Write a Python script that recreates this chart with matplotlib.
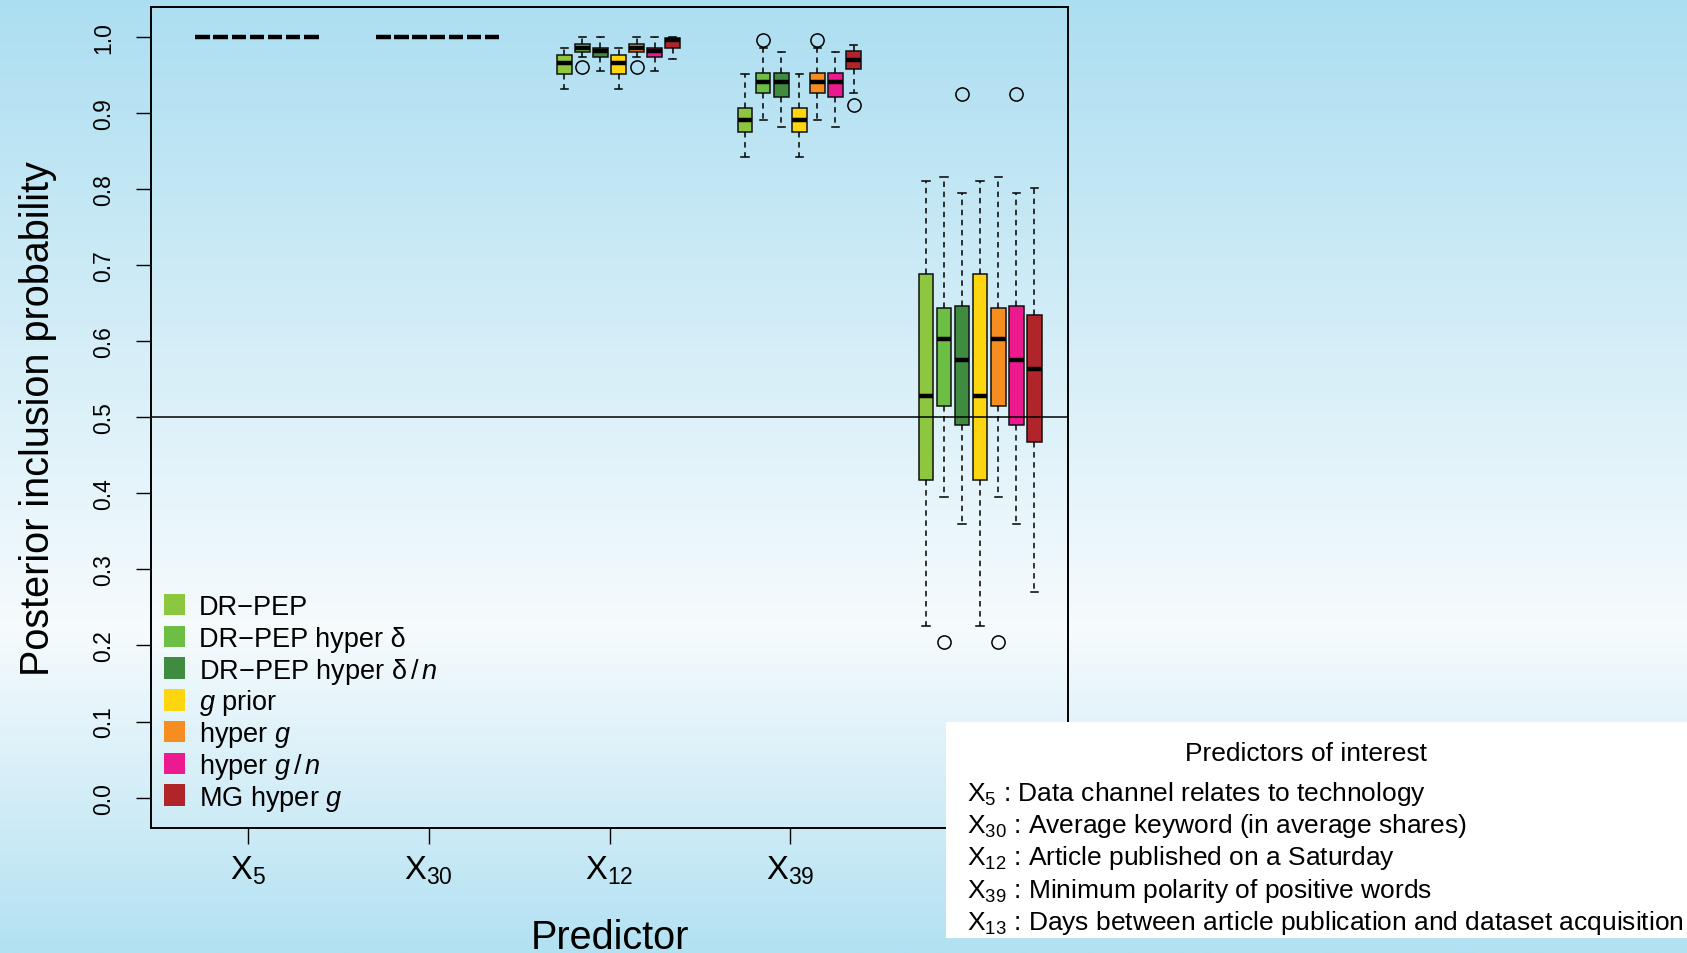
import matplotlib
matplotlib.use("Agg")
import matplotlib.pyplot as plt
from matplotlib.patches import Rectangle
import numpy as np

plt.rcParams['font.family'] = ['Liberation Sans', 'DejaVu Sans']
plt.rcParams['mathtext.fontset'] = 'custom'
plt.rcParams['mathtext.rm'] = 'Liberation Sans'
plt.rcParams['mathtext.it'] = 'Liberation Sans:italic'

# data
predictors = ["X$_{5}$", "X$_{30}$", "X$_{12}$", "X$_{39}$", "X$_{13}$"]
methods = ["DR\u2212PEP", "DR\u2212PEP hyper \u03b4", "DR\u2212PEP hyper \u03b4$\\,/\\,n$",
           "$g$ prior", "hyper $g$", "hyper $g\\,/\\,n$", "MG hyper $g$"]
colors = ["#8DC63F", "#6DBE45", "#3F8B3F", "#FDD60F", "#F68D21", "#EC1A8E", "#B0252A"]

whislo = [[1.0] * 7,
          [1.0] * 7,
          [0.931, 0.973, 0.955, 0.931, 0.973, 0.955, 0.971],
          [0.842, 0.891, 0.881, 0.842, 0.891, 0.881, 0.926],
          [0.225, 0.395, 0.360, 0.225, 0.395, 0.360, 0.270]]
q1 = [[1.0] * 7,
      [1.0] * 7,
      [0.951, 0.980, 0.973, 0.951, 0.980, 0.973, 0.986],
      [0.875, 0.926, 0.921, 0.875, 0.926, 0.921, 0.958],
      [0.418, 0.515, 0.490, 0.418, 0.515, 0.490, 0.468]]
med = [[1.0] * 7,
       [1.0] * 7,
       [0.966, 0.986, 0.981, 0.966, 0.986, 0.981, 0.996],
       [0.891, 0.941, 0.941, 0.891, 0.941, 0.941, 0.970],
       [0.528, 0.603, 0.575, 0.528, 0.603, 0.575, 0.563]]
q3 = [[1.0] * 7,
      [1.0] * 7,
      [0.976, 0.991, 0.986, 0.976, 0.991, 0.986, 0.998],
      [0.906, 0.953, 0.953, 0.906, 0.953, 0.953, 0.981],
      [0.688, 0.643, 0.646, 0.688, 0.643, 0.646, 0.635]]
whishi = [[1.0] * 7,
          [1.0] * 7,
          [0.985, 1.0, 1.0, 0.985, 1.0, 1.0, 1.0],
          [0.951, 0.986, 0.980, 0.951, 0.986, 0.980, 0.990],
          [0.810, 0.816, 0.795, 0.810, 0.816, 0.795, 0.801]]
fliers = [[[], [], [], [], [], [], []],
          [[], [], [], [], [], [], []],
          [[], [0.961], [], [], [0.961], [], []],
          [[], [0.996], [], [], [0.996], [], [0.910]],
          [[], [0.205], [0.925], [], [0.205], [0.925], []]]

descriptions = ["X$_{5}$ : Data channel relates to technology",
                "X$_{30}$ : Average keyword (in average shares)",
                "X$_{12}$ : Article published on a Saturday",
                "X$_{39}$ : Minimum polarity of positive words",
                "X$_{13}$ : Days between article publication and dataset acquisition"]

W, H = 1687, 954
fig = plt.figure(figsize=(W / 100, H / 100), dpi=100)

# slide background gradient
bg = fig.add_axes([0, 0, 1, 1], zorder=-5)
yy = np.linspace(0, 1, 400)
stops = [0.0, 0.66, 1.0]
cols = np.array([[172, 222, 241], [246, 251, 253], [178, 225, 242]]) / 255
grad = np.stack([np.interp(yy, stops, cols[:, k]) for k in range(3)], axis=1)
bg.imshow(grad[:, None, :], aspect='auto', extent=[0, 1, 1, 0])
bg.set_xlim(0, 1)
bg.set_ylim(1, 0)
bg.axis('off')

ax = fig.add_axes([151 / W, 1 - 829 / H, (1068 - 151) / W, (829 - 7.5) / H])
ax.set_facecolor('none')

stats = []
positions = []
box_colors = []
for g in range(len(predictors)):
    for j in range(len(methods)):
        stats.append(dict(whislo=whislo[g][j], q1=q1[g][j], med=med[g][j],
                          q3=q3[g][j], whishi=whishi[g][j], fliers=fliers[g][j]))
        positions.append(10 * g + j + 1)
        box_colors.append(colors[j])

bp = ax.bxp(stats, positions=positions, widths=0.81, patch_artist=True,
            manage_ticks=False,
            boxprops=dict(edgecolor='#111111', linewidth=1.1),
            medianprops=dict(color='black', linewidth=3.2, solid_capstyle='butt'),
            whiskerprops=dict(color='black', linewidth=1.1, linestyle=(0, (3.6, 3.0))),
            capprops=dict(color='black', linewidth=1.1),
            flierprops=dict(marker='o', markerfacecolor='none', markeredgecolor='black',
                            markersize=9.5, markeredgewidth=1.1))
for patch, c in zip(bp['boxes'], box_colors):
    patch.set_facecolor(c)

ax.axhline(0.5, color='black', linewidth=1.1, zorder=5)

ax.set_xlim(-1.86, 48.86)
ax.set_ylim(-0.04, 1.04)
ax.set_xticks([10 * g + 3.5 for g in range(len(predictors))])
ax.set_xticklabels(predictors, fontsize=23.5)
# the last tick label sits under the white panel in the original
ax.get_xticklabels()[-1].set_visible(False)
yt = np.arange(0, 1.01, 0.1)
ax.set_yticks(yt)
ax.set_yticklabels(["%.1f" % v for v in yt], fontsize=16.5, rotation=90, va='center')
ax.tick_params(axis='y', length=10.8, width=1.0, pad=15)
ax.tick_params(axis='x', length=11.5, width=1.0, pad=7)
for s in ax.spines.values():
    s.set_linewidth(1.4)

ax.set_ylabel("Posterior inclusion probability", fontsize=28.5, va='center')
ax.yaxis.set_label_coords((38.5 - 151) / 917, 0.5)
ax.set_xlabel("Predictor", fontsize=28.5, va='baseline')
ax.xaxis.set_label_coords(0.5, (829 - 949) / 821.5)

# legend drawn row by row so that every row has the same spacing
for i, (lab, c) in enumerate(zip(methods, colors)):
    yc = 605.5 + 31.75 * i
    fig.add_artist(Rectangle((163.5 / W, 1 - (yc + 10.75) / H), 21.5 / W, 21.5 / H,
                             transform=fig.transFigure, facecolor=c,
                             edgecolor='none', zorder=4))
    fig.text(199 / W, 1 - (yc + 9.7) / H, lab, fontsize=19.5,
             ha='left', va='baseline', zorder=4)

# white panel describing the predictors
fig.add_artist(Rectangle((946 / W, 15 / H), 1 - 946 / W, 216 / H,
                         transform=fig.transFigure, facecolor='white',
                         edgecolor='none', zorder=5))
fig.text(1306 / W, 1 - 761 / H, "Predictors of interest", fontsize=19,
         ha='center', va='baseline', zorder=6)
for i, d in enumerate(descriptions):
    fig.text(967 / W, 1 - (800.5 + 32.5 * i) / H, d, fontsize=19,
             ha='left', va='baseline', zorder=6)

fig.savefig("out.png", dpi=100)
